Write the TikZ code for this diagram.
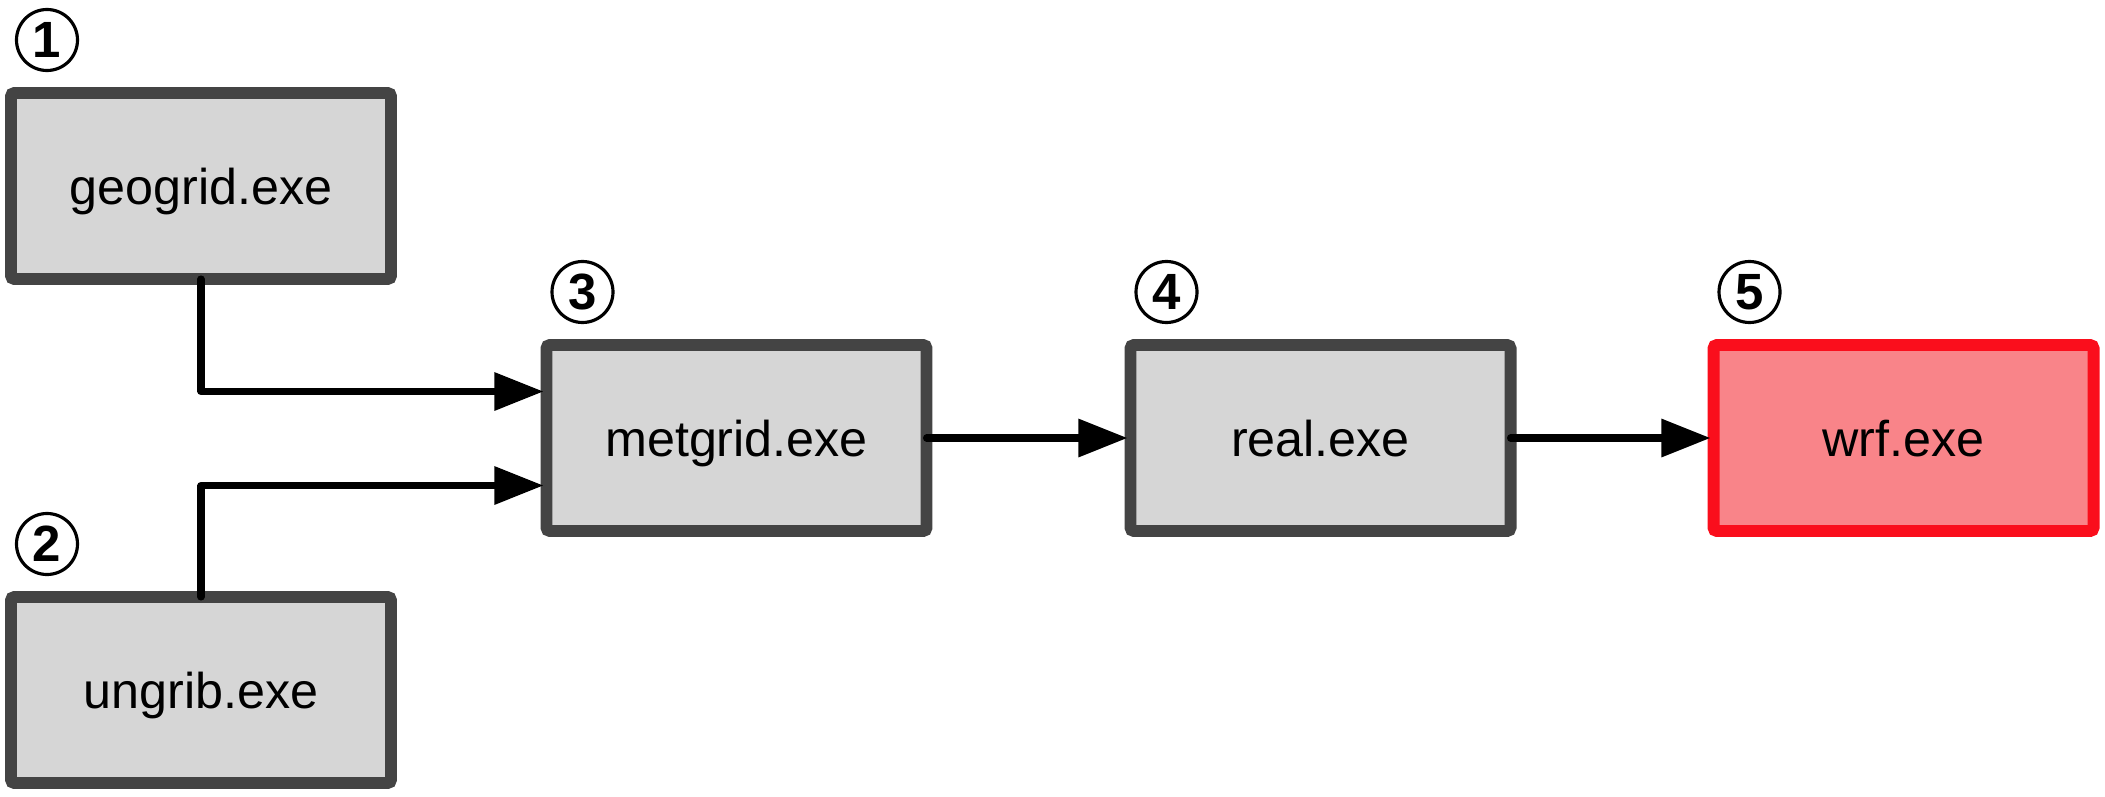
\documentclass[tikz,border=0pt]{standalone}
\usepackage{fontspec}
\setmainfont{Liberation Sans}
\usepackage{xcolor}
\usepackage{tikz}
\usetikzlibrary{arrows.meta, positioning}

\definecolor{boxgray}{RGB}{214,214,214}
\definecolor{boxline}{RGB}{68,68,68}
\definecolor{wrfred}{RGB}{250,14,28}
\definecolor{wrffill}{RGB}{249,132,137}

\begin{document}
\begin{tikzpicture}[program/.style={draw=boxline, fill=boxgray, rectangle, line width=3.4pt, rounded corners=1pt, outer sep=0pt, minimum width=3.8cm, minimum height=1.86cm, text depth=0pt, font=\fontsize{14.3}{17}\selectfont},
		final/.style={program, draw=wrfred, fill=wrffill},
		stepnum/.style={draw, circle, line width=0.9pt, minimum size=0.61cm, inner sep=0pt, outer sep=0pt, font=\fontsize{14.5}{16}\selectfont\bfseries},
		flow/.style={line width=2pt, line cap=round, line join=round, -{Triangle[length=14pt, width=10.5pt]}, shorten >=0.03cm}
		]
		\useasboundingbox (0,0) rectangle (21.05,7.96);
		
		\node [program](geogrid) at (2.01,6.10) {geogrid.exe};
		\node [program](ungrib) [below=3.18cm of geogrid] {ungrib.exe};
		
		\node [program](metgrid) at (7.365,3.58) {metgrid.exe};
		\node [program](real) [right=2.04cm of metgrid] {real.exe};
		\node [final](wrf) [right=2.03cm of real] {wrf.exe};
		
		\node [stepnum](n1) [above=0.225cm of geogrid.north west, xshift=0.36cm] {1};
		\node [stepnum](n2) [above=0.225cm of ungrib.north west, xshift=0.36cm] {2};
		\node [stepnum](n3) [above=0.225cm of metgrid.north west, xshift=0.36cm] {3};
		\node [stepnum](n4) [above=0.225cm of real.north west, xshift=0.36cm] {4};
		\node [stepnum](n5) [above=0.225cm of wrf.north west, xshift=0.36cm] {5};
		
		\draw[flow] (geogrid.south) |- ([yshift=0.465cm]metgrid.west);
		\draw[flow] (ungrib.north) |- ([yshift=-0.475cm]metgrid.west);
		
		\draw[flow] (metgrid) -- (real);
		\draw[flow] (real) -- (wrf);
		
	\end{tikzpicture}
\end{document}
